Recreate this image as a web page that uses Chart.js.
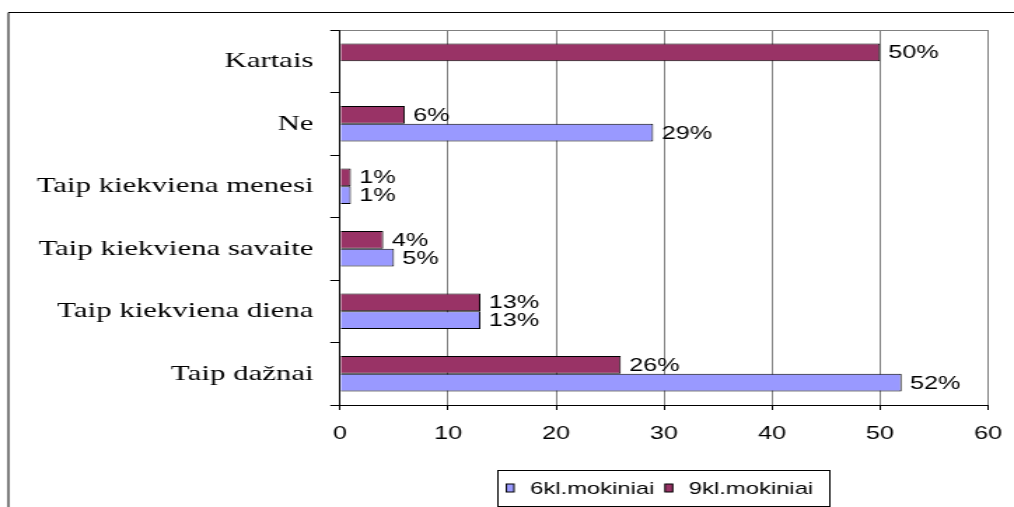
<!DOCTYPE html>
<html>
<head>
<meta charset="utf-8">
<script src="https://cdn.jsdelivr.net/npm/chart.js@4.4.1/dist/chart.umd.min.js"></script>
<style>
  html, body { margin: 0; padding: 0; background: #fff; overflow: hidden; }
  /* the original picture is stretched sideways, so the chart is too */
  #wrap { width: 724px; height: 507px; transform: scaleX(1.40055); transform-origin: 0 0; }
</style>
</head>
<body>
<div id="wrap"><canvas id="chart"></canvas></div>
<script>
const categories = ['Kartais', 'Ne', 'Taip kiekviena menesi', 'Taip kiekviena savaite', 'Taip kiekviena diena', 'Taip dažnai'];
const kl6 = [null, 29, 1, 5, 13, 52];
const kl9 = [50, 6, 1, 4, 13, 26];
const xTicks = [0, 10, 20, 30, 40, 50, 60];

const sans = '"Liberation Sans", Arial, sans-serif';
const serif = '"Liberation Serif", "Times New Roman", serif';

const frame = {
  id: 'frame',
  beforeDraw(chart) {
    const ctx = chart.ctx;
    ctx.save();
    ctx.strokeStyle = '#000';
    ctx.lineWidth = 1;
    ctx.beginPath();
    ctx.moveTo(6, chart.height);
    ctx.lineTo(6, 12.5);
    ctx.lineTo(chart.width, 12.5);
    ctx.stroke();
    ctx.restore();
  },
  beforeDatasetsDraw(chart) {
    const a = chart.chartArea, ctx = chart.ctx;
    ctx.save();
    ctx.strokeStyle = '#808080';
    ctx.lineWidth = 1;
    ctx.beginPath();
    ctx.moveTo(a.left, a.top + 0.5);
    ctx.lineTo(a.right, a.top + 0.5);
    ctx.stroke();
    ctx.restore();
  }
};

const valueLabels = {
  id: 'valueLabels',
  afterDatasetsDraw(chart) {
    const ctx = chart.ctx;
    ctx.save();
    ctx.font = '18px ' + sans;
    ctx.fillStyle = '#000';
    ctx.textBaseline = 'middle';
    ctx.textAlign = 'left';
    chart.data.datasets.forEach((ds, i) => {
      chart.getDatasetMeta(i).data.forEach((bar, j) => {
        if (ds.data[j] == null) return;
        ctx.fillText(ds.data[j] + '%', bar.x + 6, bar.y + 1);
      });
    });
    ctx.restore();
  }
};

const boxLegend = {
  id: 'boxLegend',
  afterDraw(chart) {
    const ctx = chart.ctx;
    const x0 = 355, y0 = 470, w = 237, h = 36;
    const cy = y0 + h / 2;
    ctx.save();
    ctx.strokeStyle = '#000';
    ctx.lineWidth = 1;
    ctx.strokeRect(x0 + 0.5, y0 + 0.5, w, h);
    ctx.font = '17px ' + sans;
    ctx.textBaseline = 'middle';
    let x = x0 + 6.5;
    chart.data.datasets.slice().reverse().forEach(ds => {
      ctx.fillStyle = ds.backgroundColor;
      ctx.fillRect(x, cy - 4, 5.5, 8);
      ctx.strokeRect(x, cy - 4, 5.5, 8);
      ctx.fillStyle = '#000';
      ctx.fillText(ds.label, x + 17, cy + 1);
      x += 17 + ctx.measureText(ds.label).width + 7.5;
    });
    ctx.restore();
  }
};

new Chart(document.getElementById('chart'), {
  type: 'bar',
  data: {
    labels: categories,
    datasets: [
      { label: '9kl.mokiniai', data: kl9, backgroundColor: '#993366', borderColor: '#000', borderWidth: 1 },
      { label: '6kl.mokiniai', data: kl6, backgroundColor: '#9999FF', borderColor: '#000', borderWidth: 1 }
    ]
  },
  options: {
    indexAxis: 'y',
    responsive: true,
    maintainAspectRatio: false,
    animation: false,
    categoryPercentage: 0.57,
    barPercentage: 1,
    layout: { padding: { top: 30, right: 18.6, bottom: 62, left: 0 } },
    plugins: { legend: { display: false }, tooltip: { enabled: false } },
    scales: {
      x: {
        min: 0, max: 60,
        afterBuildTicks: s => { s.ticks = xTicks.map(v => ({ value: v })); },
        afterFit: s => { s.height = 40; s.paddingLeft = 0; s.paddingRight = 0; },
        grid: { color: '#808080', lineWidth: 1, drawTicks: true, tickLength: 5, tickColor: '#000' },
        border: { color: '#000', width: 1 },
        ticks: { color: '#000', font: { family: sans, size: 18 }, padding: 13, maxRotation: 0 }
      },
      y: {
        afterFit: s => { s.width = 242.8; s.paddingTop = 0; s.paddingBottom = 0; },
        grid: { drawOnChartArea: false, drawTicks: true, tickLength: 7, tickColor: '#000', offset: true },
        border: { color: '#000', width: 1 },
        ticks: { color: '#000', font: { family: serif, size: 22 }, padding: 12 }
      }
    }
  },
  plugins: [frame, valueLabels, boxLegend]
});
</script>
</body>
</html>
